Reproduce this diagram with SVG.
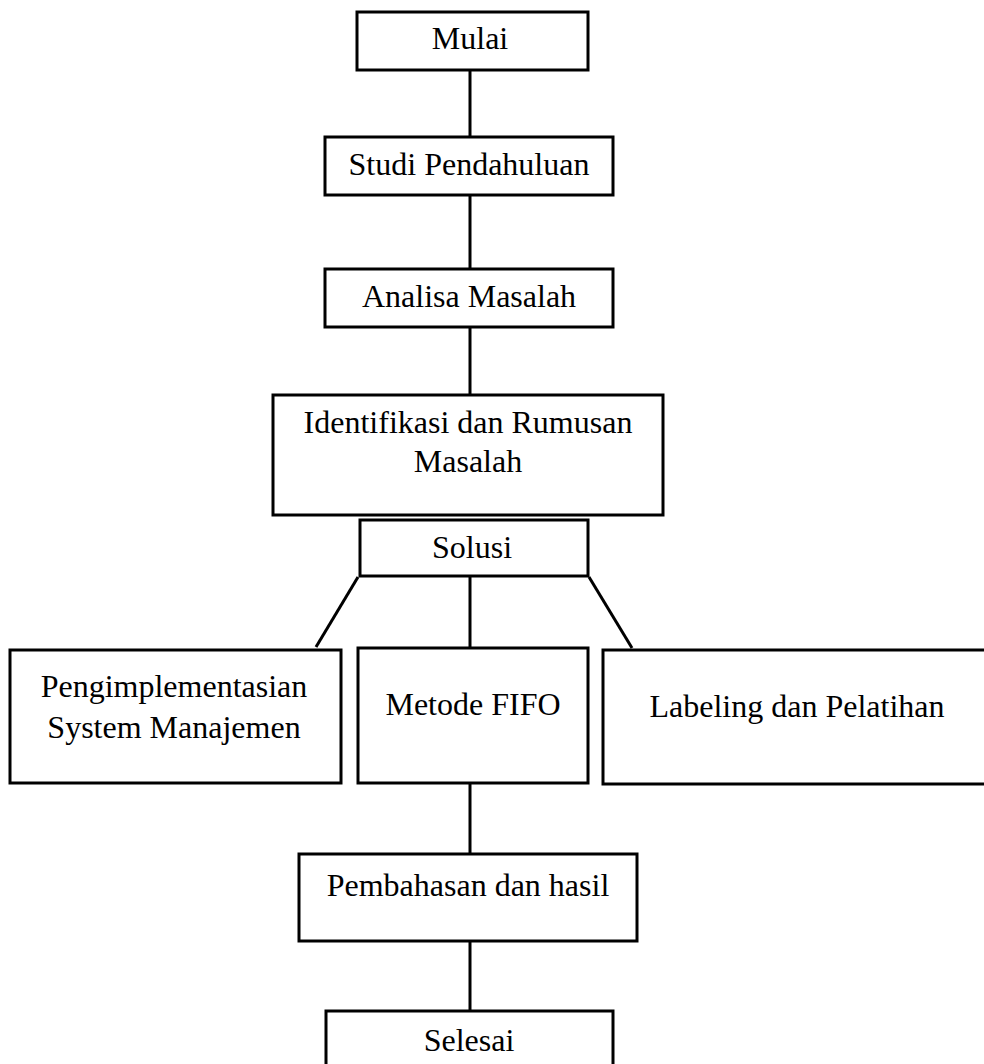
<svg xmlns="http://www.w3.org/2000/svg" width="984" height="1064" viewBox="0 0 984 1064">
<style>
.box{fill:#fff;stroke:#000;stroke-width:3}
.ln{stroke:#000;stroke-width:3;fill:none}
text{font-family:"Liberation Serif","Times New Roman",serif;font-size:32px;fill:#000;text-anchor:middle}
</style>
<rect width="984" height="1064" fill="#fff"/>
<g id="connectors">
<line class="ln" x1="470" y1="70" x2="470" y2="137"/>
<line class="ln" x1="470" y1="195" x2="470" y2="269"/>
<line class="ln" x1="470" y1="327" x2="470" y2="395"/>
<line class="ln" x1="470" y1="577" x2="470" y2="648"/>
<line class="ln" x1="358" y1="577" x2="316" y2="647"/>
<line class="ln" x1="589" y1="577" x2="632" y2="648"/>
<line class="ln" x1="470" y1="783" x2="470" y2="854"/>
<line class="ln" x1="470" y1="941" x2="470" y2="1011"/>
</g>
<g id="mulai"><rect class="box" x="357" y="12" width="231" height="58"/><text x="470" y="49">Mulai</text></g>
<g id="studi"><rect class="box" x="325" y="137" width="288" height="58"/><text x="469" y="175">Studi Pendahuluan</text></g>
<g id="analisa"><rect class="box" x="325" y="269" width="288" height="58"/><text x="469" y="307">Analisa Masalah</text></g>
<g id="identifikasi"><rect class="box" x="273" y="395" width="390" height="120"/><text x="468" y="433">Identifikasi dan Rumusan</text><text x="468" y="472">Masalah</text></g>
<g id="solusi"><rect class="box" x="360" y="520" width="228" height="56"/><text x="472" y="558">Solusi</text></g>
<g id="pengimplementasian"><rect class="box" x="10" y="650" width="331" height="133"/><text x="174" y="697">Pengimplementasian</text><text x="174" y="738">System Manajemen</text></g>
<g id="fifo"><rect class="box" x="358" y="648" width="230" height="135"/><text x="473" y="715">Metode FIFO</text></g>
<g id="labeling"><rect class="box" x="603" y="650" width="388" height="134"/><text x="797" y="717">Labeling dan Pelatihan</text></g>
<g id="pembahasan"><rect class="box" x="299" y="854" width="338" height="87"/><text x="468" y="896">Pembahasan dan hasil</text></g>
<g id="selesai"><rect class="box" x="326" y="1011" width="287" height="70"/><text x="469" y="1051">Selesai</text></g>
</svg>
